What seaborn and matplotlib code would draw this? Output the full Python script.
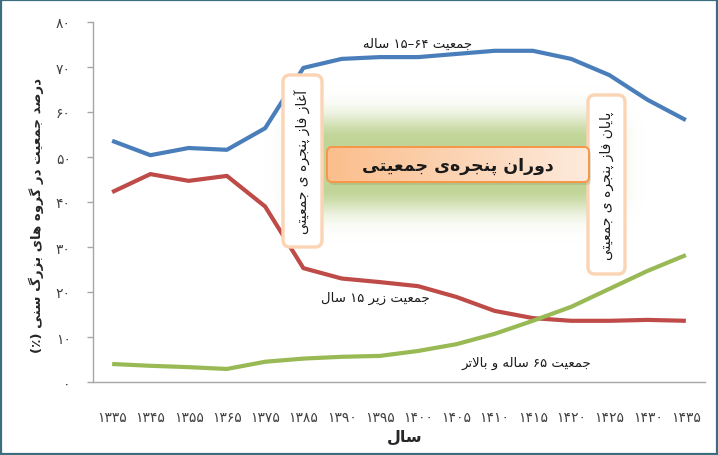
import numpy as np
import pandas as pd
import matplotlib
matplotlib.use("Agg")
import matplotlib.pyplot as plt
from matplotlib.patches import FancyBboxPatch, Rectangle
import seaborn as sns

# ---------------- data ----------------
years = ['۱۳۳۵', '۱۳۴۵', '۱۳۵۵', '۱۳۶۵', '۱۳۷۵', '۱۳۸۵', '۱۳۹۰', '۱۳۹۵',
         '۱۴۰۰', '۱۴۰۵', '۱۴۱۰', '۱۴۱۵', '۱۴۲۰', '۱۴۲۵', '۱۴۳۰', '۱۴۳۵']
age_15_64 = [53.6, 50.4, 52.0, 51.6, 56.4, 69.8, 71.8, 72.2, 72.2, 72.9,
             73.6, 73.6, 71.8, 68.2, 62.7, 58.2]
age_0_14 = [42.2, 46.2, 44.7, 45.8, 39.0, 25.3, 23.0, 22.2, 21.3, 18.9,
            15.8, 14.2, 13.6, 13.6, 13.8, 13.6]
age_65_plus = [4.0, 3.6, 3.3, 2.9, 4.5, 5.2, 5.6, 5.8, 6.9, 8.4,
               10.7, 13.6, 16.7, 20.7, 24.7, 28.2]
y_ticks = [0, 10, 20, 30, 40, 50, 60, 70, 80]
y_tick_labels = ['۰', '۱۰', '۲۰', '۳۰', '۴۰', '۵۰', '۶۰', '۷۰', '۸۰']
series_names = ['جمعیت ۱۵–۶۴ ساله', 'جمعیت زیر ۱۵ سال', 'جمعیت ۶۵ ساله و بالاتر']
series_colors = ['#4A7EBB', '#BE4B48', '#98B954']
x_title = 'سال'
y_title = 'درصد جمعیت در گروه های بزرگ سنی (٪)'
window_title = 'دوران پنجره\u200cی جمعیتی'
start_title = 'آغاز فاز پنجره ی جمعیتی'
end_title = 'پایان فاز پنجره ی جمعیتی'

# ---------------- minimal Persian shaping (visual order) ----------------
FORMS = {
    'ا': '\uFE8D\uFE8E', 'آ': '\uFE81\uFE82',
    'ب': '\uFE8F\uFE90\uFE91\uFE92', 'پ': '\uFB56\uFB57\uFB58\uFB59',
    'ت': '\uFE95\uFE96\uFE97\uFE98', 'ج': '\uFE9D\uFE9E\uFE9F\uFEA0',
    'د': '\uFEA9\uFEAA', 'ر': '\uFEAD\uFEAE', 'ز': '\uFEAF\uFEB0',
    'س': '\uFEB1\uFEB2\uFEB3\uFEB4', 'ص': '\uFEB9\uFEBA\uFEBB\uFEBC',
    'ع': '\uFEC9\uFECA\uFECB\uFECC', 'غ': '\uFECD\uFECE\uFECF\uFED0',
    'ف': '\uFED1\uFED2\uFED3\uFED4', 'گ': '\uFB92\uFB93\uFB94\uFB95',
    'ل': '\uFEDD\uFEDE\uFEDF\uFEE0', 'م': '\uFEE1\uFEE2\uFEE3\uFEE4',
    'ن': '\uFEE5\uFEE6\uFEE7\uFEE8', 'ه': '\uFEE9\uFEEA\uFEEB\uFEEC',
    'و': '\uFEED\uFEEE', 'ی': '\uFBFC\uFBFD\uFBFE\uFBFF',
}
LAM_ALEF = {'ا': '\uFEFB\uFEFC', 'آ': '\uFEF5\uFEF6'}


def _shape_word(word):
    units = []
    i = 0
    while i < len(word):
        c = word[i]
        if c == 'ل' and i + 1 < len(word) and word[i + 1] in LAM_ALEF:
            units.append(('LA', word[i + 1]))
            i += 2
        else:
            units.append(c)
            i += 1

    def joins(u):
        return isinstance(u, tuple) or u in FORMS

    def dual(u):
        return (not isinstance(u, tuple)) and u in FORMS and len(FORMS[u]) == 4

    out = []
    for k, u in enumerate(units):
        prev_c = k > 0 and dual(units[k - 1]) and joins(u)
        next_c = dual(u) and k + 1 < len(units) and joins(units[k + 1])
        if isinstance(u, tuple):
            f = LAM_ALEF[u[1]]
            out.append(f[1] if prev_c else f[0])
        elif u in FORMS:
            f = FORMS[u]
            if prev_c and next_c:
                out.append(f[3])
            elif prev_c:
                out.append(f[1])
            elif next_c:
                out.append(f[2])
            else:
                out.append(f[0])
        elif u == '\u200c':
            continue
        else:
            out.append(u)
    return ''.join(reversed(out))


def rtl(text):
    toks = text.split(' ')
    vis = []
    for t in toks:
        if any(ch in FORMS for ch in t):
            vis.append(_shape_word(t))
        else:
            vis.append(t)
    return ' '.join(reversed(vis))


# ---------------- figure ----------------
sns.set_style('white')
plt.rcParams['font.family'] = ['DejaVu Sans']

W, H = 718, 456
fig = plt.figure(figsize=(W / 100, H / 100), dpi=100)
fig.patch.set_facecolor('white')
ax = fig.add_axes([93 / W, 1 - 383 / H, (705 - 93) / W, (383 - 23) / H])

pos = np.arange(len(years))
df = pd.concat([
    pd.DataFrame({'pos': pos, 'value': vals, 'group': name})
    for name, vals in zip(series_names, [age_15_64, age_0_14, age_65_plus])
])
sns.lineplot(data=df, x='pos', y='value', hue='group', hue_order=series_names,
             palette=series_colors, linewidth=3.0, legend=False, ax=ax,
             sort=False)
for ln in ax.lines:
    ln.set_solid_joinstyle('round')
    ln.set_solid_capstyle('butt')

ax.set_xlim(-0.5, len(years) - 0.5)
ax.set_ylim(0, 80)
ax.set_xticks(pos)
ax.set_xticklabels(years)
ax.set_yticks(y_ticks)
ax.set_yticklabels(y_tick_labels)
ax.set_xlabel('')
ax.set_ylabel('')
for s in ['top', 'right']:
    ax.spines[s].set_visible(False)
for s in ['left', 'bottom']:
    ax.spines[s].set_color('#a6a6a6')
    ax.spines[s].set_linewidth(1.0)
ax.tick_params(axis='y', direction='out', length=4, width=1, color='#a6a6a6',
               labelsize=10, labelcolor='#404040', pad=12, left=True)
ax.tick_params(axis='x', length=0, labelsize=10, labelcolor='#404040', pad=20)

# axis titles
fig.text(405 / W, 1 - 437 / H, rtl(x_title), ha='center', va='center',
         fontsize=11.5, fontweight='bold', color='#262626')
fig.text(36 / W, 1 - 216 / H, rtl(y_title), ha='center', va='center',
         rotation=90, fontsize=9.6, fontweight='bold', color='#262626')

# ---------------- overlay for annotations ----------------
ov = fig.add_axes([0, 0, 1, 1])
ov.set_xlim(0, W)
ov.set_ylim(H, 0)
ov.axis('off')
ov.patch.set_alpha(0)

# green glow
gx0, gx1, gy0, gy1 = 250, 660, 75, 255
cx0, cx1, cy0, cy1 = 318, 592, 140, 190
xx, yy = np.meshgrid(np.linspace(gx0, gx1, 410), np.linspace(gy0, gy1, 180))
dx = np.maximum(np.maximum(cx0 - xx, xx - cx1), 0)
dy = np.maximum(np.maximum(cy0 - yy, yy - cy1), 0)
d = np.hypot(dx, dy)
alpha = 0.62 * np.exp(-(d / 24.0) ** 2)
glow = np.zeros(xx.shape + (4,))
glow[..., 0] = 155 / 255
glow[..., 1] = 187 / 255
glow[..., 2] = 89 / 255
glow[..., 3] = alpha
ov.imshow(glow, extent=(gx0, gx1, gy1, gy0), aspect='auto', zorder=1,
          interpolation='bilinear')

# vertical boxes
def vbox(x0, y0, x1, y1, text):
    p = FancyBboxPatch((x0, y0), x1 - x0, y1 - y0,
                       boxstyle='round,pad=0,rounding_size=7',
                       fc='white', ec='#FBD4B4', lw=2.4, zorder=3)
    ov.add_patch(p)
    ov.text((x0 + x1) / 2, (y0 + y1) / 2, rtl(text), rotation=90,
            ha='center', va='center', fontsize=10, color='#1a1a1a', zorder=4)

vbox(283, 76, 322, 248, start_title)
vbox(588, 96, 625, 275, end_title)

# orange window box with gradient
bx0, by0, bx1, by1 = 327, 148, 589, 183
shadow = FancyBboxPatch((bx0 + 2, by0 + 3), bx1 - bx0, by1 - by0,
                        boxstyle='round,pad=0,rounding_size=5',
                        fc='#7f8f60', ec='none', alpha=0.25, zorder=4)
ov.add_patch(shadow)
clip = FancyBboxPatch((bx0, by0), bx1 - bx0, by1 - by0,
                      boxstyle='round,pad=0,rounding_size=5',
                      fc='none', ec='none', zorder=5)
ov.add_patch(clip)
grad = np.zeros((2, 256, 3))
c_left = np.array([251, 190, 140]) / 255
c_right = np.array([253, 234, 220]) / 255
t = np.linspace(0, 1, 256)[:, None]
grad[:] = c_left * (1 - t) + c_right * t
im = ov.imshow(grad, extent=(bx0, bx1, by1, by0), aspect='auto', zorder=5,
               interpolation='bilinear')
im.set_clip_path(clip)
edge = FancyBboxPatch((bx0, by0), bx1 - bx0, by1 - by0,
                      boxstyle='round,pad=0,rounding_size=5',
                      fc='none', ec='#F79646', lw=1.4, zorder=6)
ov.add_patch(edge)
ov.text((bx0 + bx1) / 2, (by0 + by1) / 2 + 1, rtl(window_title), ha='center',
        va='center', fontsize=12.5, fontweight='bold', color='#1a1a1a',
        zorder=7)

# series labels
ov.text(418, 44, rtl(series_names[0]), ha='center', va='center', fontsize=9.5,
        color='#1a1a1a', zorder=7)
ov.text(375, 298, rtl(series_names[1]), ha='center', va='center', fontsize=9.5,
        color='#1a1a1a', zorder=7)
ov.text(526, 363, rtl(series_names[2]), ha='center', va='center', fontsize=9.5,
        color='#1a1a1a', zorder=7)

ov.set_xlim(0, W)
ov.set_ylim(H, 0)

# outer border
fig.patches.append(Rectangle((0.001, 0.002), 0.997, 0.996, transform=fig.transFigure,
                             fill=False, ec='#3B6E7C', lw=1.6, zorder=10))

fig.savefig('out.png', dpi=100)
